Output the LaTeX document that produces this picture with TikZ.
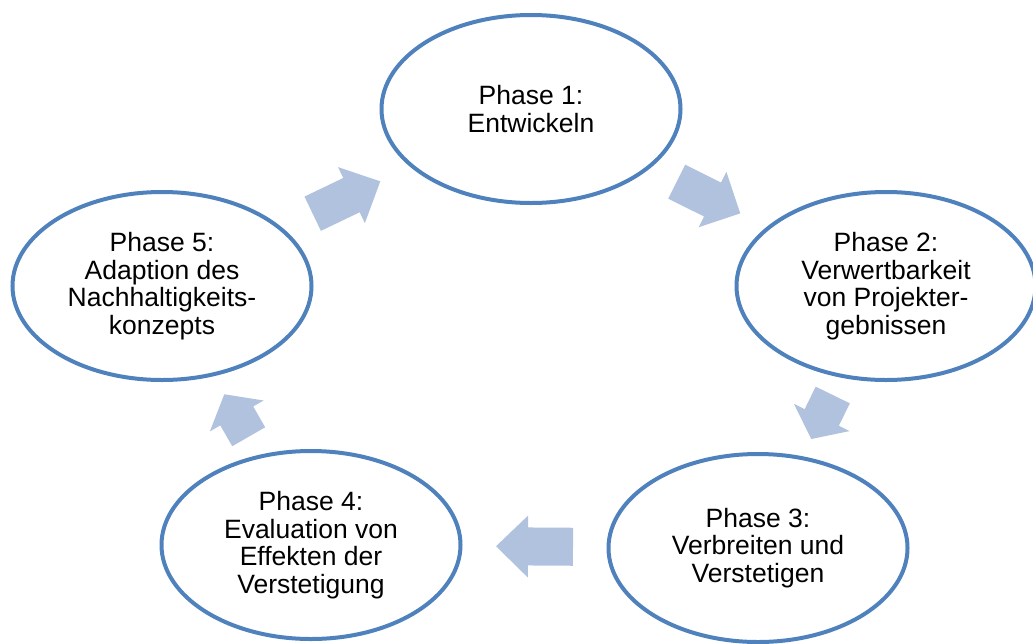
\documentclass[tikz,border=0pt]{standalone}
\usepackage{fontspec}
\setmainfont{Liberation Sans}
\usetikzlibrary{shapes.geometric}

\definecolor{ringblue}{HTML}{4F81BD}
\definecolor{arrowblue}{HTML}{B0C2DE}

\begin{document}
\begin{tikzpicture}[x=1pt, y=-1pt,
    phase/.style={ellipse, draw=ringblue, line width=4pt, minimum width=299pt, minimum height=188pt,
      inner sep=0pt, align=center, font=\fontsize{26.5}{27.5}\selectfont},
    pics/cyclearrow/.style args={#1/#2}{code={
      \fill[arrowblue] ({-(#1+#2)/2},-19) -- ({#1-(#1+#2)/2},-19) -- ({#1-(#1+#2)/2},-31) -- ({(#1+#2)/2},0)
        -- ({#1-(#1+#2)/2},31) -- ({#1-(#1+#2)/2},19) -- ({-(#1+#2)/2},19) -- cycle;
    }},
    onpath/.style={sloped, allow upside down, pos=0.5}]
  \useasboundingbox (0,0) rectangle (1033,643);
  \node[phase] (ph1) at (531,109) {Phase 1:\\Entwickeln};
  \node[phase] (ph2) at (886,286) {Phase 2:\\Verwertbarkeit\\von Projekter-\\gebnissen};
  \node[phase] (ph3) at (758,548) {Phase 3:\\Verbreiten und\\Verstetigen};
  \node[phase] (ph4) at (311,545) {Phase 4:\\Evaluation von\\Effekten der\\Verstetigung};
  \node[phase] (ph5) at (162,286) {Phase 5:\\Adaption des\\Nachhaltigkeits-\\konzepts};
  % block arrows between the phases (shaft/head length)
  \path (ph1) -- pic[onpath] {cyclearrow={40/31}} (ph2);
  \path (ph2) -- pic[onpath] {cyclearrow={25/24}} (ph3);
  \path (ph3) -- pic[onpath] {cyclearrow={45/32}} (ph4);
  \path (ph4) -- pic[onpath] {cyclearrow={24/25}} (ph5);
  \path (ph5) -- pic[onpath] {cyclearrow={43/32}} (ph1);
\end{tikzpicture}
\end{document}
